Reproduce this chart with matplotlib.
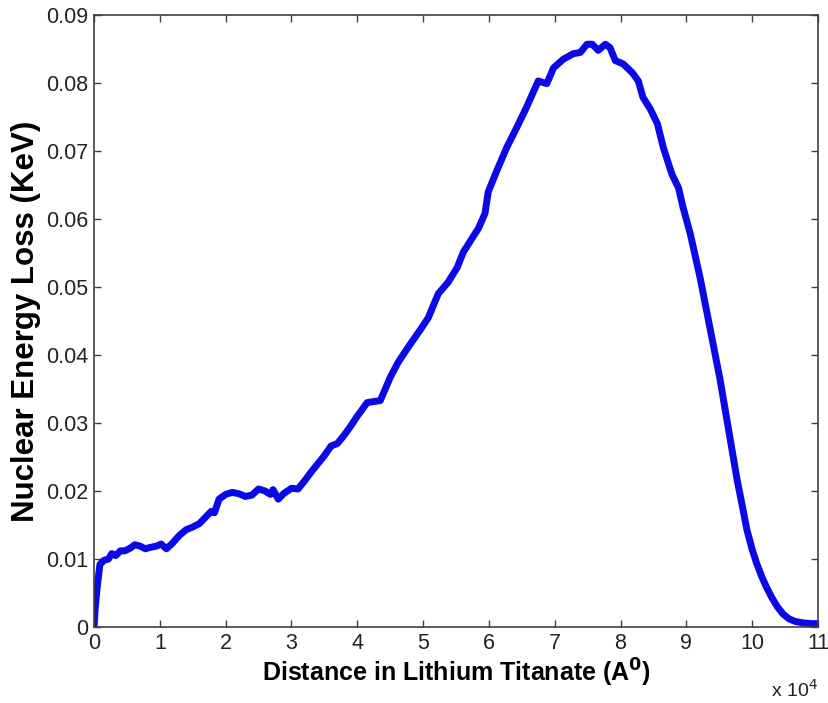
import matplotlib
matplotlib.use("Agg")
import matplotlib.pyplot as plt

# Distance (in units of 1e4 Angstrom) and nuclear energy loss (keV)
distance_1e4 = [0.00, 0.02, 0.05, 0.09, 0.15, 0.22, 0.27, 0.33, 0.40, 0.47,
                0.55, 0.62, 0.70, 0.78, 0.85, 0.95, 1.02, 1.10, 1.18, 1.30,
                1.40, 1.50, 1.60, 1.70, 1.78, 1.83, 1.90, 2.00, 2.10, 2.20,
                2.30, 2.40, 2.50, 2.60, 2.68, 2.72, 2.80, 2.88, 3.00, 3.10,
                3.20, 3.30, 3.40, 3.50, 3.60, 3.70, 3.80, 3.89, 4.00, 4.15,
                4.35, 4.50, 4.62, 4.77, 4.95, 5.08, 5.23, 5.38, 5.52, 5.61,
                5.74, 5.84, 5.94, 5.99, 6.12, 6.27, 6.42, 6.57, 6.75, 6.88,
                6.98, 7.13, 7.28, 7.39, 7.49, 7.57, 7.66, 7.77, 7.84, 7.92,
                8.04, 8.18, 8.27, 8.34, 8.45, 8.56, 8.65, 8.78, 8.88, 8.95,
                9.06, 9.21, 9.36, 9.51, 9.64, 9.77, 9.85, 9.92, 10.00, 10.07,
                10.15, 10.22, 10.30, 10.38, 10.47, 10.56, 10.66, 10.78, 10.90, 11.00]
energy_loss = [0.0000, 0.0030, 0.0060, 0.0092, 0.0098, 0.0100, 0.0108, 0.0105, 0.0112, 0.0112,
               0.0116, 0.0121, 0.0119, 0.0115, 0.0117, 0.0119, 0.0122, 0.0115, 0.0122, 0.0135,
               0.0143, 0.0147, 0.0152, 0.0162, 0.0170, 0.0168, 0.0188, 0.0195, 0.0198, 0.0196,
               0.0192, 0.0194, 0.0203, 0.0200, 0.0195, 0.0202, 0.0188, 0.0196, 0.0204, 0.0203,
               0.0215, 0.0228, 0.0240, 0.0252, 0.0266, 0.0270, 0.0282, 0.0294, 0.0310, 0.0330,
               0.0333, 0.0367, 0.0389, 0.0411, 0.0436, 0.0455, 0.0490, 0.0507, 0.0529, 0.0551,
               0.0571, 0.0586, 0.0608, 0.0640, 0.0671, 0.0705, 0.0734, 0.0764, 0.0803, 0.0799,
               0.0822, 0.0835, 0.0843, 0.0845, 0.0857, 0.0857, 0.0848, 0.0857, 0.0852, 0.0833,
               0.0828, 0.0815, 0.0803, 0.0779, 0.0762, 0.0740, 0.0705, 0.0666, 0.0646, 0.0617,
               0.0578, 0.0513, 0.0439, 0.0365, 0.0291, 0.0217, 0.0178, 0.0143, 0.0114, 0.0093,
               0.0073, 0.0058, 0.0043, 0.0030, 0.0019, 0.0012, 0.0008, 0.0006, 0.0005, 0.0005]

x_ticks = list(range(0, 12))
x_tick_labels = [str(v) for v in x_ticks]
y_ticks = [0, 0.01, 0.02, 0.03, 0.04, 0.05, 0.06, 0.07, 0.08, 0.09]
y_tick_labels = ["0", "0.01", "0.02", "0.03", "0.04", "0.05", "0.06", "0.07", "0.08", "0.09"]

plt.rcParams['font.family'] = ['Liberation Sans', 'DejaVu Sans']

fig = plt.figure(figsize=(8.29, 7.03), dpi=100)
ax = fig.add_axes([94/829, 1 - 627/703, 724/829, 612/703])

ax.plot(distance_1e4, energy_loss, color='#0a0ae6', linewidth=5, solid_capstyle='butt',
        solid_joinstyle='round')

ax.set_xlim(0, 11)
ax.set_ylim(0, 0.09)
ax.set_xticks(x_ticks)
ax.set_xticklabels(x_tick_labels)
ax.set_yticks(y_ticks)
ax.set_yticklabels(y_tick_labels)

ax.tick_params(direction='in', length=5, width=1, color='#404040',
               top=True, right=True, labelsize=15.5, pad=4, labelcolor='#222222')
for s in ax.spines.values():
    s.set_color('#404040')
    s.set_linewidth(1.2)

ax.set_xlabel(r'Distance in Lithium Titanate (A$^\mathbf{0}$)', fontsize=18,
              fontweight='bold', labelpad=2)
ax.set_ylabel('Nuclear Energy Loss (KeV)', fontsize=22.5, fontweight='bold', labelpad=4)

ax.text(1.0, -0.085, r'x 10$^{4}$', transform=ax.transAxes, ha='right', va='top',
        fontsize=14, color='#222222')

fig.savefig('out.png', dpi=100)
